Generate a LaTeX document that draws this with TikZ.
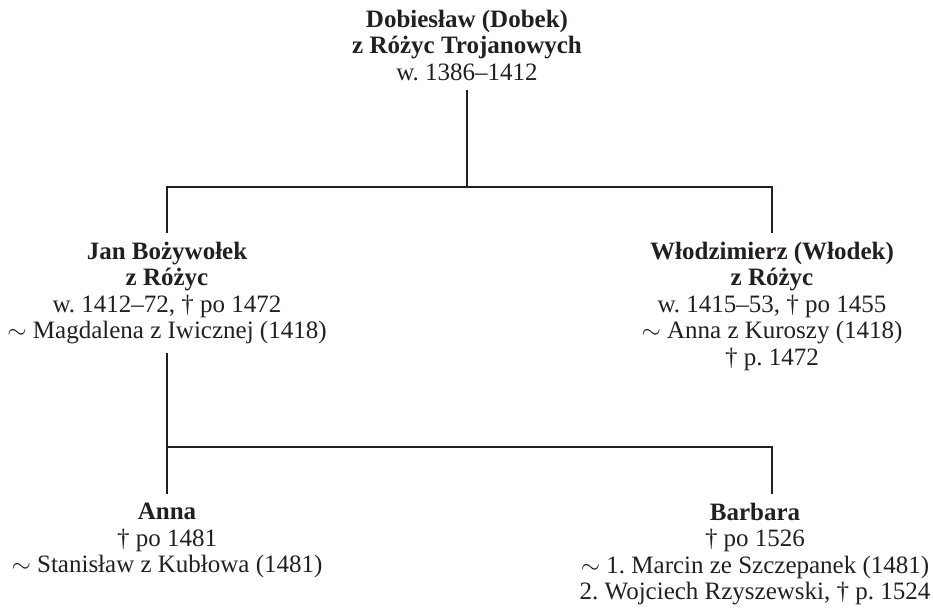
\documentclass[tikz,border=0pt]{standalone}
\usepackage{fontspec}
\setmainfont{Liberation Serif}
\usepackage{xcolor}
\definecolor{ink}{HTML}{231F20}

\begin{document}
\frenchspacing
\begin{tikzpicture}[x=1pt,y=1pt,every text node part/.style={align=center}]
\tikzstyle{every node}+=[inner sep=0pt,outer ysep=9pt,text=ink,font=\fontsize{25}{26.5}\selectfont]
\tikzstyle{person}=[anchor=north]
\tikzstyle{link}=[ink,line width=2pt]
\useasboundingbox (0,0) rectangle (933,-612);
% Dobiesław
\node [person] (dob) at (467,-1) {\textbf{Dobiesław (Dobek)} \\ \textbf{z Różyc Trojanowych} \\ w. 1386–1412};
% his sons
\node [person] (jan) at (167,-233) {\textbf{Jan Bożywołek} \\ \textbf{z Różyc} \\ w. 1412–72, † po 1472 \\ $\sim$ Magdalena z Iwicznej (1418)};
\node [person] (wlo) at (772,-233) {\textbf{Włodzimierz (Włodek)} \\ \textbf{z Różyc} \\ w. 1415–53, † po 1455 \\ $\sim$ Anna z Kuroszy (1418) \\ † p. 1472};
% Jan's daughters
\node [person] (anna) at (167,-494) {\textbf{Anna} \\ † po 1481 \\ $\sim$ Stanisław z Kubłowa (1481)};
\node [person] (bar) at (755,-494) {\textbf{Barbara} \\ † po 1526 \\ $\sim$ 1. Marcin ze Szczepanek (1481) \\ 2. Wojciech Rzyszewski, † p. 1524};
\coordinate (fork1) at (467,-187);
\coordinate (fork2) at (167,-447);
\draw [link] (dob.south) -- (fork1);
\draw [link] (jan.north) |- (fork1) -| (wlo.north);
\draw [link] (jan.south) -- (anna.north);
\draw [link] (fork2) -| ([xshift=17pt]bar.north);
\end{tikzpicture}
\end{document}
